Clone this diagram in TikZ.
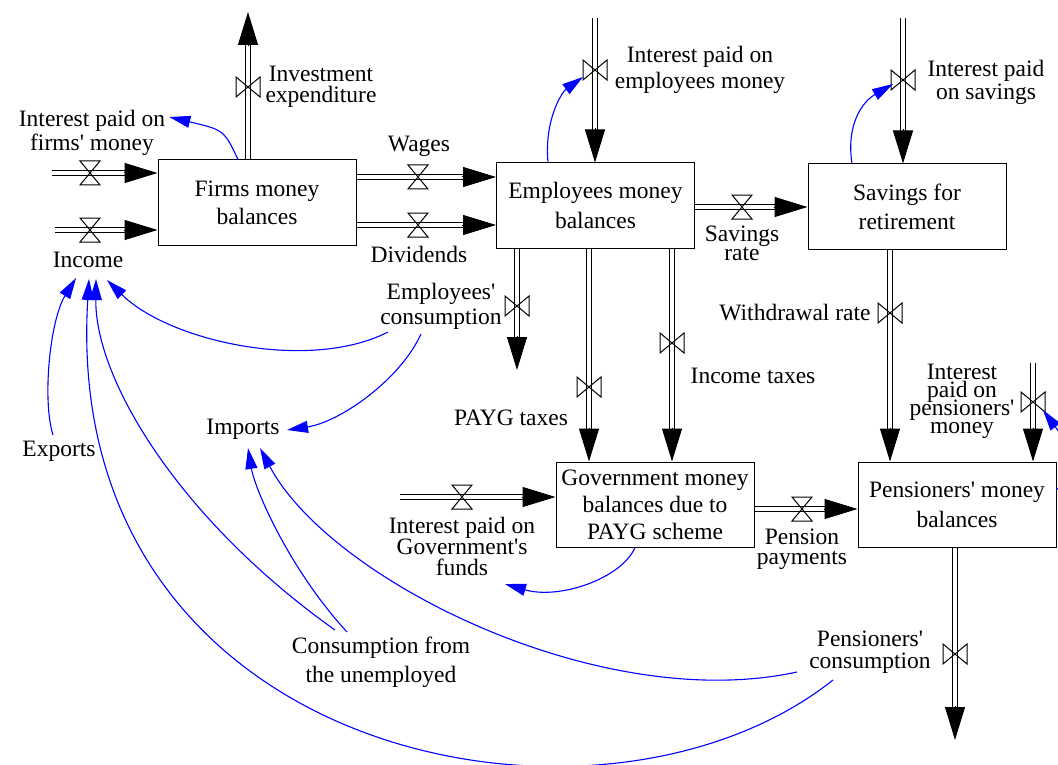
\documentclass[tikz,border=0pt]{standalone}
\usepackage{fontspec}
\setmainfont{Liberation Serif}[Ligatures=TeXOff]
\usetikzlibrary{arrows.meta,calc}
\newcommand\lblfont[1]{\fontsize{23.5}{#1}\selectfont\lineskiplimit-50pt\lineskip0pt\relax}
\tikzset{
  stock/.style={draw, line width=1pt, minimum width=198pt, minimum height=85pt,
    align=center, inner sep=0pt, font=\lblfont{#1}},
  stock/.default=29,
  lbl/.style={align=center, inner sep=1pt, font=\lblfont{#1}},
  lbl/.default=26,
  pipe/.style={draw=black, line width=1.1pt, double=white, double distance=4pt},
  pipetip/.style={draw=black, fill=black, line width=1pt, -{Triangle[length=33pt,width=20pt]}},
  info/.style={draw=blue, line width=1.1pt, -{Triangle[length=21pt,width=12pt]}},
  hvalve/.pic={\draw[line width=1pt] (-10,-12) -- (10,-12) -- (-10,12) -- (10,12) -- cycle;},
  vvalve/.pic={\draw[line width=1pt] (-12,-10) -- (-12,10) -- (12,-10) -- (12,10) -- cycle;}
}
\newcommand\flowpipe[2]{%
  \draw[pipe] (#1) -- ($(#2)!30pt!(#1)$);
  \draw[pipetip] ($(#2)!34pt!(#1)$) -- (#2);}
\begin{document}
\begin{tikzpicture}[x=1pt,y=-1pt]
\useasboundingbox (0,0) rectangle (1058,765);
% stocks
\node[stock=28] (firms) at (257,202.5) {Firms money\\balances};
\node[stock=30] (emp) at (595.5,205.5) {Employees money\\balances};
\node[stock=29] (sav) at (907,206.5) {Savings for\\retirement};
\node[stock=27] (gov) at (655,504.5) {Government money\\balances due to\\PAYG scheme};
\node[stock=30] (pen) at (957,504.5) {Pensioners' money\\balances};
% valve positions
\coordinate (vIFM) at (90,173);
\coordinate (vInc) at (90,230);
\coordinate (vIE) at (248,87);
\coordinate (vW) at (418,177);
\coordinate (vD) at (418,225);
\coordinate (vIEm) at (595,70);
\coordinate (vSR) at (742,207);
\coordinate (vIS) at (903,80);
\coordinate (vEC) at (517,306);
\coordinate (vPT) at (589,387);
\coordinate (vIT) at (672,343);
\coordinate (vWR) at (890,313);
\coordinate (vIG) at (462,497);
\coordinate (vPP) at (802,509);
\coordinate (vIP) at (1033,402);
\coordinate (vPC) at (955,654);
% free ends
\coordinate (sIFM) at (52,173);
\coordinate (sInc) at (55,230);
\coordinate (tIE) at (248,12);
\coordinate (sIEm) at (595,18);
\coordinate (sIS) at (903,18);
\coordinate (tEC) at (517,370);
\coordinate (sIG) at (400,497);
\coordinate (sIP) at (1033,363);
\coordinate (tPC) at (955,740);
% attachment points
\coordinate (eIFM) at (firms.west |- sIFM);
\coordinate (eInc) at (firms.west |- sInc);
\coordinate (bIE) at (firms.north -| tIE);
\coordinate (aW) at (firms.east |- vW);
\coordinate (bW) at (emp.west |- vW);
\coordinate (aD) at (firms.east |- vD);
\coordinate (bD) at (emp.west |- vD);
\coordinate (eIEm) at (emp.north -| sIEm);
\coordinate (aSR) at (emp.east |- vSR);
\coordinate (bSR) at (sav.west |- vSR);
\coordinate (eIS) at (sav.north -| sIS);
\coordinate (aEC) at (emp.south -| tEC);
\coordinate (aPT) at (emp.south -| vPT);
\coordinate (bPT) at (gov.north -| vPT);
\coordinate (aIT) at (emp.south -| vIT);
\coordinate (bIT) at (gov.north -| vIT);
\coordinate (aWR) at (sav.south -| vWR);
\coordinate (bWR) at (pen.north -| vWR);
\coordinate (eIG) at (gov.west |- sIG);
\coordinate (aPP) at (gov.east |- vPP);
\coordinate (bPP) at (pen.west |- vPP);
\coordinate (eIP) at (pen.north -| sIP);
\coordinate (aPC) at (pen.south -| tPC);
% flows
\flowpipe{sIFM}{eIFM}
\flowpipe{sInc}{eInc}
\flowpipe{bIE}{tIE}
\flowpipe{aW}{bW}
\flowpipe{aD}{bD}
\flowpipe{sIEm}{eIEm}
\flowpipe{aSR}{bSR}
\flowpipe{sIS}{eIS}
\flowpipe{aEC}{tEC}
\flowpipe{aPT}{bPT}
\flowpipe{aIT}{bIT}
\flowpipe{aWR}{bWR}
\flowpipe{sIG}{eIG}
\flowpipe{aPP}{bPP}
\flowpipe{sIP}{eIP}
\flowpipe{aPC}{tPC}
% valves
\pic at (vIFM) {hvalve};
\pic at (vInc) {hvalve};
\pic at (vW) {hvalve};
\pic at (vD) {hvalve};
\pic at (vSR) {hvalve};
\pic at (vIG) {hvalve};
\pic at (vPP) {hvalve};
\pic at (vIE) {vvalve};
\pic at (vIEm) {vvalve};
\pic at (vIS) {vvalve};
\pic at (vEC) {vvalve};
\pic at (vPT) {vvalve};
\pic at (vIT) {vvalve};
\pic at (vWR) {vvalve};
\pic at (vIP) {vvalve};
\pic at (vPC) {vvalve};
% labels
\node[lbl=24] (ifm) at (92,133) {Interest paid on\\firms' money};
\node[lbl] (inc) at (88,260) {Income};
\node[lbl=21] (ie) at (321,87) {Investment\\expenditure};
\node[lbl] (wag) at (419,146) {Wages};
\node[lbl] (div) at (419,254) {Dividends};
\node[lbl=26] (iem) at (700,70) {Interest paid on\\employees money};
\node[lbl=19] (sr) at (742,243) {Savings\\rate};
\node[lbl=23] (is) at (986,82) {Interest paid\\on savings};
\node[lbl=25] (ec) at (441,306) {Employees'\\consumption};
\node[lbl] (pt) at (511,418) {PAYG taxes};
\node[lbl] (it) at (753,376) {Income taxes};
\node[lbl] (wr) at (795,313) {Withdrawal rate};
\node[lbl=21] (ig) at (462,546) {Interest paid on\\Government's\\funds};
\node[lbl=20] (pp) at (802,549) {Pension\\payments};
\node[lbl=18] (ip) at (962,401) {Interest\\paid on\\pensioners'\\money};
\node[lbl=22] (pc) at (870,652) {Pensioners'\\consumption};
\node[lbl] (exp) at (59,451) {Exports};
\node[lbl] (imp) at (243,429) {Imports};
\node[lbl=29] (cu) at (381,662) {Consumption from\\the unemployed};
% information links
\draw[info] ([xshift=-19pt]firms.north) .. controls (224,130) .. ($(ifm.east)+(3,-16)$);
\draw[info] ([xshift=-47.5pt]emp.north) .. controls (544,120) and (562,92) .. ($(vIEm)+(-12,7)$);
\draw[info] ([xshift=-55pt]sav.north) .. controls (846,125) and (862,102) .. ($(vIS)+(-10,4)$);
\draw[info] ([xshift=-20pt]gov.south) .. controls (622,578) and (560,600) .. ($(ig.center)+(43,38)$);
\draw[info] ($(pen.east)+(0,-15)$) .. controls (1085,470) and (1065,440) .. ($(vIP)+(10,8)$);
\draw[info] ($(ec.center)+(-53,26)$) .. controls (310,372) and (170,342) .. ($(inc.center)+(19,20)$);
\draw[info] ($(ec.center)+(-20,28)$) .. controls (400,380) and (340,422) .. ($(imp.center)+(44,1)$);
\draw[info] ($(exp.center)+(-6,-16)$) .. controls (42,400) and (50,320) .. ($(inc.center)+(-12,18)$);
\draw[info] ($(cu.center)+(-46,-32)$) .. controls (180,520) and (95,380) .. ($(inc.center)+(8,19)$);
\draw[info] ($(cu.center)+(-34,-30)$) .. controls (290,570) and (255,490) .. ($(imp.center)+(5,19)$);
\draw[info] ($(pc.center)+(-73,20)$) .. controls (600,715) and (330,580) .. ($(imp.center)+(17,19)$);
\draw[info] ($(pc.center)+(-37,28)$) .. controls (600,865) and (60,760) .. ($(inc.center)+(1,19)$);
\end{tikzpicture}
\end{document}
